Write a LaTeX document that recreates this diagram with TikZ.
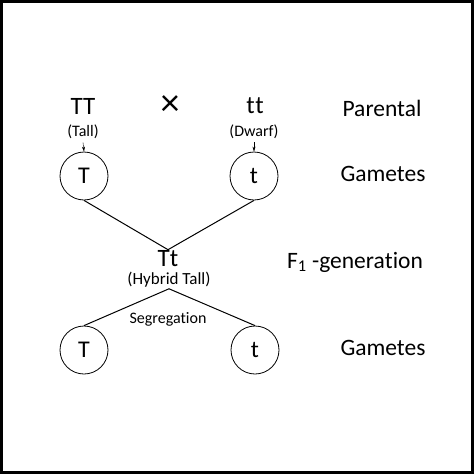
\documentclass[tikz,border=0pt]{standalone}
\usepackage{fontspec}
\setmainfont{Carlito}[Ligatures=NoCommon]
\usetikzlibrary{arrows.meta}
\begin{document}
\begin{tikzpicture}[x=1pt,y=-1pt,
	big/.style={font=\fontsize{25}{28}\selectfont},
	lab/.style={font=\fontsize{23.5}{26}\selectfont},
	small/.style={font=\fontsize{16}{18}\selectfont},
	gamete/.style={draw,circle,minimum size=48pt,inner sep=0pt,line width=0.8pt,font=\fontsize{24}{26}\selectfont}]
	\useasboundingbox (0,0) rectangle (474,474);
	\draw[line width=3pt] (1.5,1.5) rectangle (472.5,472.5);
	% parents
	\node[big] (TT) at (83,106) {TT};
	\node[font=\fontsize{38}{40}\selectfont] (cross) at (170,106) {×};
	\node[big] (tt) at (255,106) {t\kern0.5pt t};
	\node[lab] (parental) at (382,108) {Parental};
	\node[small] (tall) at (83,132) {(Tall)};
	\node[small] (dwarf) at (254,132) {(Dwarf)};
	% gametes
	\node[gamete] (gT) at (84,176) {T};
	\node[gamete] (gt) at (254,176) {t};
	\node[lab] (gam1) at (383,174) {Gametes};
	\draw[-{Stealth[length=5pt,width=3pt]},thin] (tall.south) -- (gT.north);
	\draw[-{Stealth[length=5pt,width=3pt]},thin] (dwarf.south) -- (gt.north);
	% F1
	\node[big,inner sep=1pt] (Tt) at (168,259) {Tt};
	\node[small,font=\fontsize{17}{19}\selectfont,inner sep=1pt] (hybrid) at (169,280) {(Hybrid Tall)};
	\node[lab] (f1) at (355,262) {F\textsubscript{1} -genera\kern0pt tion};
	\draw[line width=1pt] (gT.south) -- (Tt.north) -- (gt.south);
	% segregation
	\node[gamete] (sT) at (84,350) {T};
	\node[gamete] (st) at (255,350) {t};
	\node[small] (seg) at (168,319) {Segregation};
	\node[lab] (gam2) at (383,348) {Gametes};
	\draw[line width=1pt] (sT.north) -- (hybrid.south) -- (st.north);
\end{tikzpicture}
\end{document}
